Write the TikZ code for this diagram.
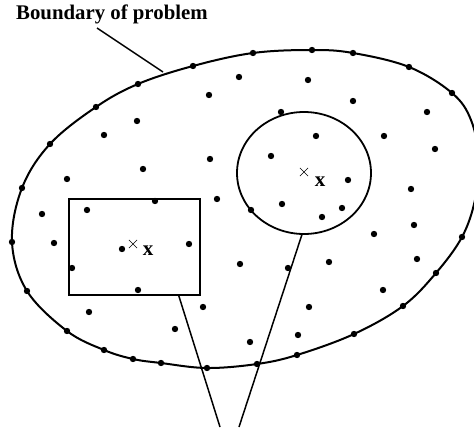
\documentclass[tikz,border=0pt]{standalone}
\usepackage{fontspec}
\setmainfont{Liberation Serif}
\usetikzlibrary{shapes.geometric,shapes.misc}
\begin{document}
\begin{tikzpicture}[x=1pt,y=-1pt,
  dot/.style={circle,fill=black,inner sep=0pt,minimum size=6.4pt},
  bnd/.style={line width=2pt},
  frame/.style={draw,line width=1.8pt,inner sep=0pt},
  lead/.style={line width=1.5pt},
  ctrmark/.style={cross out,draw,minimum size=7.5pt,inner sep=0pt,line width=0.6pt},
  xlab/.style={font=\bfseries\fontsize{21}{21}\selectfont,inner sep=0pt}]
\useasboundingbox (0,0) rectangle (474,428);
% boundary of problem
\draw[bnd] plot[smooth cycle,tension=0.6] coordinates {
  (12,242) (22,188) (50,144) (96,107) (138,84) (193,66) (253,53) (312,50)
  (353,53) (409,67) (452,93) (471,120) (479,160) (475,200) (462,237)
  (436,273) (403,306) (354,334) (297,355) (257,364) (207,368) (161,363)
  (133,359) (104,350) (67,331) (27,291)};
% boundary dots
\foreach \x/\y [count=\i] in {12/242,22/188,50/144,96/107,138/84,193/66,253/53,
  312/50,353/53,409/67,452/93,462/237,436/273,403/306,354/334,297/355,257/364,
  207/368,161/363,133/359,104/350,67/331,27/291}
  \node[dot] (b\i) at (\x,\y) {};
% interior dots
\foreach \x/\y [count=\i] in {239/77,209/95,137/121,104/135,210/159,143/169,67/179,
  217/199,155/201,87/210,42/214,54/243,122/249,189/244,72/268,138/290,89/312,
  203/307,175/329,240/264,308/80,353/101,427/112,281/112,316/136,384/136,435/149,
  271/156,348/180,411/189,282/204,342/208,251/210,322/217,414/225,374/234,
  288/268,329/262,417/259,383/290,309/307,298/335,250/342}
  \node[dot] (p\i) at (\x,\y) {};
% square domain
\node[frame,minimum width=131pt,minimum height=96pt,anchor=north west] (win) at (68,198) {};
% circular domain
\node[frame,ellipse,minimum width=134pt,minimum height=122pt] (sup) at (304,173) {};
% centres
\node[ctrmark] (c1) at (133,244) {};
\node[ctrmark] (c2) at (304,172) {};
\node[xlab] (x1) at (148,251) {x};
\node[xlab] (x2) at (320,182) {x};
% leaders to bottom
\coordinate (e1) at (220,427);
\coordinate (e2) at (239,427);
\draw[lead] ([xshift=-22pt]win.south east) -- (e1);
\draw[lead] (sup.-92) -- (e2);
% label
\node[font=\bfseries\fontsize{20.8}{24}\selectfont,anchor=base west,inner sep=0pt] (lab) at (16,20) {Boundary of problem};
\coordinate (lp) at (163,72);
\draw[lead] (97,28) -- (lp);
\end{tikzpicture}
\end{document}
